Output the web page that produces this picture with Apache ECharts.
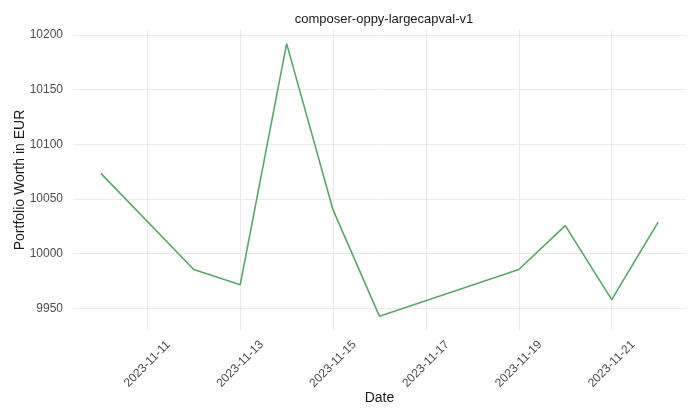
<!DOCTYPE html>
<html>
<head>
<meta charset="utf-8">
<script src="https://cdn.jsdelivr.net/npm/echarts@6/dist/echarts.min.js"></script>
<style>html,body{margin:0;padding:0;background:#fff}#c{width:700px;height:420px}</style>
</head>
<body>
<div id="c"></div>
<script>
const dates = ['2023-11-10','2023-11-12','2023-11-13','2023-11-14','2023-11-15','2023-11-16','2023-11-19','2023-11-20','2023-11-21','2023-11-22'];
const values = [10073.4, 9985.5, 9971.5, 10192, 10040, 9942.7, 9985.5, 10025.7, 9958, 10028.8];
const xTickDates = ['2023-11-11','2023-11-13','2023-11-15','2023-11-17','2023-11-19','2023-11-21'];
const yTicks = [9950, 10000, 10050, 10100, 10150, 10200];

const DAY = 86400000;
const toDay = s => Date.parse(s + 'T00:00:00Z') / DAY;
const fromDay = d => {
  const dt = new Date(Math.round(d) * DAY);
  const p = n => String(n).padStart(2, '0');
  return dt.getUTCFullYear() + '-' + p(dt.getUTCMonth() + 1) + '-' + p(dt.getUTCDate());
};
const xs = dates.map(toDay);
const xMin = Math.min(...xs), xMax = Math.max(...xs);
const xPad = (xMax - xMin) * 0.05;
const yMinV = Math.min(...values), yMaxV = Math.max(...values);
const yPad = (yMaxV - yMinV) * 0.05;

const chart = echarts.init(document.getElementById('c'));
chart.setOption({
  animation: false,
  title: {
    text: 'composer-oppy-largecapval-v1',
    left: 379, top: 8, textAlign: 'center',
    textStyle: { fontFamily: 'Liberation Sans, Arial', fontSize: 13, fontWeight: 'normal', color: '#1a1a1a' }
  },
  grid: { left: 73, right: 14, top: 30, bottom: 90, containLabel: false, outerBoundsMode: 'none' },
  xAxis: {
    type: 'value',
    min: xMin - xPad, max: xMax + xPad,
    name: 'Date', nameLocation: 'middle', nameGap: 61, nameMoveOverlap: false,
    nameTextStyle: { fontFamily: 'Liberation Sans, Arial', fontSize: 14, color: '#1a1a1a' },
    axisLine: { show: false },
    axisTick: { show: false, customValues: xTickDates.map(toDay) },
    axisLabel: {
      customValues: xTickDates.map(toDay),
      rotate: 45, margin: 34, align: 'center', verticalAlign: 'middle',
      formatter: v => fromDay(v),
      fontFamily: 'Liberation Sans, Arial', fontSize: 12, color: '#4d4d4d'
    },
    splitLine: { show: true, lineStyle: { color: '#ebebeb', width: 1 } }
  },
  yAxis: {
    type: 'value',
    min: yMinV - yPad, max: yMaxV + yPad,
    name: 'Portfolio Worth in EUR', nameLocation: 'middle', nameGap: 46, nameMoveOverlap: false,
    nameTextStyle: { fontFamily: 'Liberation Sans, Arial', fontSize: 14, color: '#1a1a1a' },
    axisLine: { show: false },
    axisTick: { show: false, customValues: yTicks },
    axisLabel: {
      customValues: yTicks, margin: 10,
      formatter: v => String(v),
      fontFamily: 'Liberation Sans, Arial', fontSize: 12, color: '#4d4d4d'
    },
    splitLine: { show: true, lineStyle: { color: '#ebebeb', width: 1 } }
  },
  series: [{
    type: 'line',
    data: xs.map((x, i) => [x, values[i]]),
    showSymbol: false,
    lineStyle: { color: '#5aa66a', width: 1.6 },
    itemStyle: { color: '#5aa66a' }
  }]
});
</script>
</body>
</html>
